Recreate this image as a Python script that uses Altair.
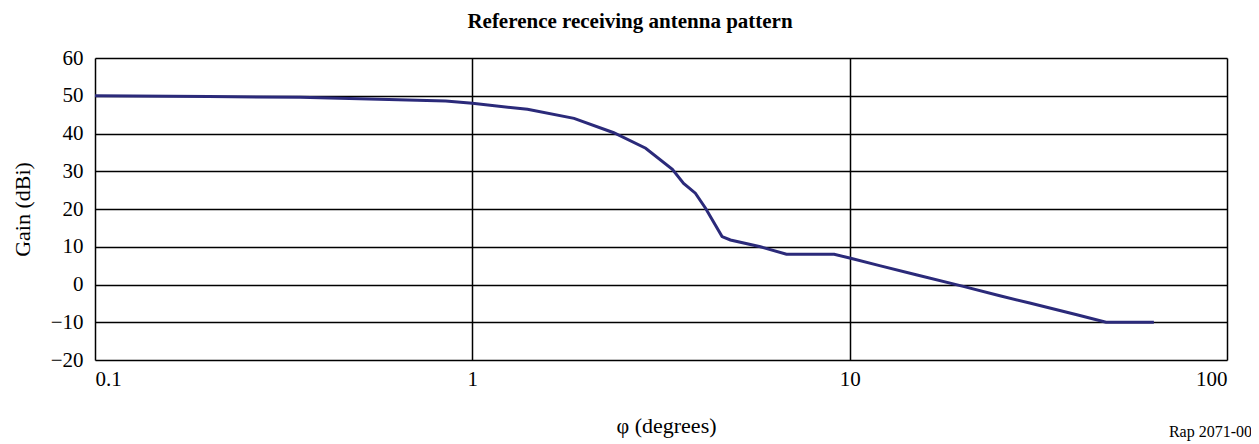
import altair as alt
import pandas as pd

# Data
phi_deg = [0.1, 0.2, 0.35, 0.6, 0.85, 1.0, 1.4, 1.86, 2.37, 2.88, 3.39, 3.63, 3.9,
           4.15, 4.59, 4.83, 5.8, 6.8, 9.1, 10.0, 12.0, 15.0, 20.0, 25.0, 30.0,
           40.0, 47.8, 64.0]
gain_dbi = [50.0, 49.8, 49.6, 49.0, 48.6, 48.0, 46.4, 44.0, 40.2, 36.1, 30.5, 26.8, 24.2,
            20.2, 12.7, 11.8, 10.0, 8.0, 8.0, 7.0, 5.0, 2.6, -0.5, -3.0, -4.9,
            -8.0, -10.0, -10.0]
x_ticks = [0.1, 1, 10, 100]
y_ticks = [-20, -10, 0, 10, 20, 30, 40, 50, 60]

title_text = "Reference receiving antenna pattern"
x_title = "φ (degrees)"
y_title = "Gain (dBi)"
note_text = "Rap 2071-00"

W, H = 1132, 302
FONT = "Liberation Serif"

df = pd.DataFrame({"phi": phi_deg, "gain": gain_dbi})

line = alt.Chart(df).mark_line(color="#2B2A7A", strokeWidth=3).encode(
    x=alt.X("phi:Q",
            scale=alt.Scale(type="log", domain=[0.1, 100]),
            axis=alt.Axis(values=x_ticks, format="~g", title=x_title,
                          grid=True, gridColor="black", gridWidth=1.5,
                          ticks=False, domain=False, labelPadding=8,
                          labelFont=FONT, labelFontSize=21, labelColor="black",
                          titleFont=FONT, titleFontSize=22, titleFontWeight="normal",
                          titleColor="black", titleX=571, titleY=65,
                          titleBaseline="middle", titleAlign="center")),
    y=alt.Y("gain:Q",
            scale=alt.Scale(domain=[-20, 60]),
            axis=alt.Axis(values=y_ticks, title=y_title,
                          labelExpr="replace(datum.label, '-', '−')",
                          grid=True, gridColor="black", gridWidth=1.5,
                          ticks=False, domain=False, labelPadding=12,
                          labelFont=FONT, labelFontSize=21, labelColor="black",
                          titleFont=FONT, titleFontSize=22, titleFontWeight="normal",
                          titleColor="black", titleX=-73, titleY=151,
                          titleAngle=270, titleBaseline="middle", titleAlign="center")),
)

title = alt.Chart(pd.DataFrame({"t": [title_text]})).mark_text(
    font=FONT, fontSize=21, fontWeight="bold", color="black",
    align="center", baseline="middle"
).encode(x=alt.value(535), y=alt.value(-36), text="t:N")

note = alt.Chart(pd.DataFrame({"t": [note_text]})).mark_text(
    font=FONT, fontSize=16, color="black", align="right", baseline="middle"
).encode(x=alt.value(1157), y=alt.value(374), text="t:N")

chart = alt.layer(line, title, note).properties(
    width=W, height=H,
    autosize=alt.AutoSizeParams(type="none"),
    padding={"left": 87, "top": 50, "right": 24, "bottom": 82},
).configure_view(stroke="black", strokeWidth=2).configure(background="white")

chart.save("out.html", embed_options={"renderer": "svg", "actions": False})
